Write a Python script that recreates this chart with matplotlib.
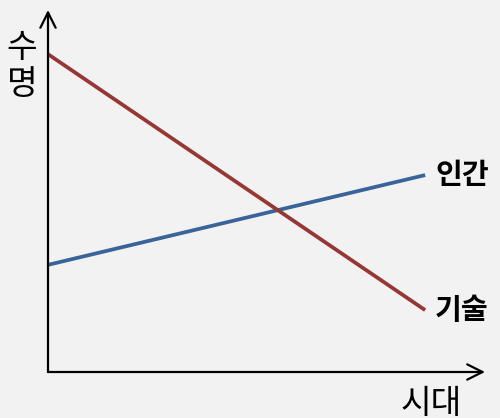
import matplotlib
matplotlib.use("Agg")
import matplotlib.pyplot as plt

plt.rcParams['font.family'] = ['Noto Sans CJK KR', 'DejaVu Sans']

time = [0, 86.3]
human = [29.6, 54.4]
tech = [87.8, 17.1]
series_labels = ["인간", "기술"]
x_label = "시대"
y_label = "수명"

W, H = 500, 418
fig = plt.figure(figsize=(W / 100, H / 100), dpi=100, facecolor='#f2f2f2')
ax = fig.add_axes([48 / W, 46 / H, (485 - 48) / W, (372 - 10) / H])
ax.set_facecolor('#f2f2f2')
ax.set_xlim(0, 100)
ax.set_ylim(0, 100)
for s in ax.spines.values():
    s.set_visible(False)
ax.set_xticks([])
ax.set_yticks([])

# axes with open arrow heads
ax.annotate('', xy=(0, 1), xytext=(0, 0), xycoords='axes fraction',
            arrowprops=dict(arrowstyle='->,head_length=1.1,head_width=0.55', lw=1.6, color='black', shrinkA=0, shrinkB=0),
            annotation_clip=False)
ax.annotate('', xy=(1, 0), xytext=(0, 0), xycoords='axes fraction',
            arrowprops=dict(arrowstyle='->,head_length=1.1,head_width=0.55', lw=1.6, color='black', shrinkA=0, shrinkB=0),
            annotation_clip=False)

ax.plot(time, human, color='#3a6499', lw=2.7, solid_capstyle='butt', clip_on=False)
ax.plot(time, tech, color='#953735', lw=2.7, solid_capstyle='butt', clip_on=False)

ax.text(time[-1] + 2.3, human[-1], series_labels[0], fontsize=21, fontweight='bold',
        va='center', ha='left', clip_on=False)
ax.text(time[-1] + 2.3, tech[-1], series_labels[1], fontsize=21, fontweight='bold',
        va='center', ha='left', clip_on=False)

fig.text(22 / W, 1 - 66 / H, "\n".join(y_label), fontsize=24, ha='center', va='center', linespacing=1.05)
fig.text(431 / W, 1 - 404 / H, x_label, fontsize=24, ha='center', va='center')

fig.savefig('out.png', dpi=100, facecolor='#f2f2f2')
